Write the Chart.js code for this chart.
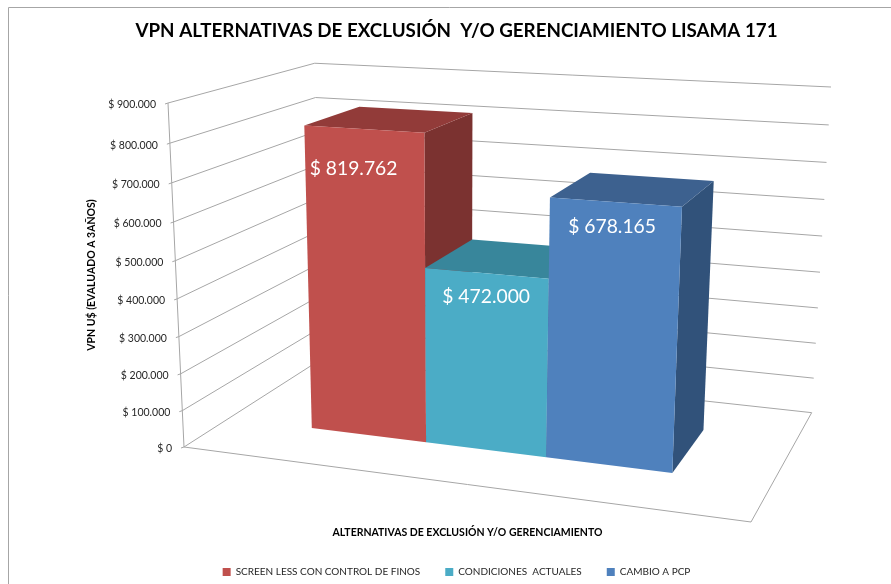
<!DOCTYPE html>
<html lang="es">
<head>
    <meta charset="UTF-8">
    <title>VPN alternativas</title>
    <script src="https://cdn.jsdelivr.net/npm/chart.js"></script>
    <style>
        html, body { margin: 0; padding: 0; background: #fff; overflow: hidden; }
        #wrap { position: relative; width: 891px; height: 584px; }
    </style>
</head>
<body>
    <div id="wrap"><canvas id="vpnChart"></canvas></div>

    <script>
        const chartTitle = 'VPN ALTERNATIVAS DE EXCLUSIÓN  Y/O GERENCIAMIENTO LISAMA 171';
        const xAxisTitle = 'ALTERNATIVAS DE EXCLUSIÓN Y/O GERENCIAMIENTO';
        const yAxisTitle = 'VPN U$ (EVALUADO A 3AÑOS)';
        const seriesNames = ['SCREEN LESS CON CONTROL DE FINOS', 'CONDICIONES  ACTUALES', 'CAMBIO A PCP'];
        const seriesValues = [819762, 472000, 678165];
        const valueLabels = ['$ 819.762', '$ 472.000', '$ 678.165'];
        const frontColors = ['#C0504D', '#4BACC6', '#4F81BD'];
        const topColors = ['#923B39', '#38869B', '#3D618F'];
        const sideColors = ['#7B3230', '#2F7286', '#31527A'];

        // corners of the 3D box as seen on the picture
        const O = [184, 447], U = [751, 522], V = [168, 103], W = [321.5, 359], X = [831, 87];
        const dv = -0.055;
        const barDepth = [0.298, 0.71];
        const labelNudge = [[-10, 40], [0, 24], [-3, 25]];

        // solve the two remaining perspective terms from the far top corner
        function solvePerspective() {
            const a1 = U[0] - X[0], b1 = W[0] - X[0];
            const c1 = X[0] * (1 + dv) - U[0] - V[0] * (1 + dv) - W[0] + 2 * O[0];
            const a2 = U[1] - X[1], b2 = W[1] - X[1];
            const c2 = X[1] * (1 + dv) - U[1] - V[1] * (1 + dv) - W[1] + 2 * O[1];
            const det = a1 * b2 - a2 * b1;
            return [(c1 * b2 - c2 * b1) / det, (a1 * c2 - a2 * c1) / det];
        }
        const [du, dw] = solvePerspective();

        // u along categories, v up the value axis, w into the chart, all 0..1
        function project(u, v, w) {
            const den = 1 + du * u + dv * v + dw * w;
            const out = [0, 1].map(i =>
                (O[i] + (U[i] * (1 + du) - O[i]) * u + (V[i] * (1 + dv) - O[i]) * v + (W[i] * (1 + dw) - O[i]) * w) / den
            );
            return out;
        }

        function line(ctx, points, color) {
            ctx.beginPath();
            points.forEach((p, i) => i ? ctx.lineTo(p[0], p[1]) : ctx.moveTo(p[0], p[1]));
            ctx.strokeStyle = color;
            ctx.lineWidth = 1;
            ctx.stroke();
        }

        function face(ctx, points, color) {
            ctx.beginPath();
            points.forEach((p, i) => i ? ctx.lineTo(p[0], p[1]) : ctx.moveTo(p[0], p[1]));
            ctx.closePath();
            ctx.fillStyle = color;
            ctx.fill();
        }

        const box3d = {
            id: 'box3d',
            beforeDraw(chart) {
                const ctx = chart.ctx;
                // outer chart frame
                line(ctx, [[8.5, chart.height], [8.5, 7.5], [chart.width, 7.5]], '#A6A6A6');
            },
            // bars are replaced by the perspective version below
            beforeDatasetsDraw(chart) {
                const ctx = chart.ctx;
                const yScale = chart.scales.y, xScale = chart.scales.x;
                const gridColor = '#A6A6A6';

                yScale.ticks.forEach(tick => {
                    const v = yScale.getDecimalForPixel(yScale.getPixelForValue(tick.value));
                    line(ctx, [project(0, v, 0), project(0, v, 1), project(1, v, 1)], gridColor);
                    const p = project(0, v, 0);
                    line(ctx, [p, [p[0] - 3, p[1] + 1]], gridColor);
                    ctx.fillStyle = '#262626';
                    ctx.font = '10.5px Lato';
                    ctx.textAlign = 'right';
                    ctx.textBaseline = 'middle';
                    ctx.fillText(tick.label, p[0] - 12, p[1] + 2);
                });
                line(ctx, [project(0, 1, 0), project(0, 0, 0), project(1, 0, 0), project(1, 0, 1)], gridColor);

                ctx.save();
                ctx.fillStyle = '#000';
                ctx.font = 'bold 10.5px Lato';
                ctx.textAlign = 'center';
                ctx.textBaseline = 'middle';
                ctx.fillText(xAxisTitle, 467.5, 533);
                ctx.translate(92, 275);
                ctx.rotate(-Math.PI / 2);
                ctx.fillText(yAxisTitle, 0, 0);
                ctx.restore();

                seriesValues.forEach((value, i) => {
                    const bar = chart.getDatasetMeta(i).data[0];
                    const u0 = (bar.x - bar.width / 2 - xScale.left) / xScale.width;
                    const u1 = (bar.x + bar.width / 2 - xScale.left) / xScale.width;
                    const v = yScale.getDecimalForPixel(bar.y);
                    const w0 = barDepth[0], w1 = barDepth[1];

                    face(ctx, [project(u1, 0, w0), project(u1, 0, w1), project(u1, v, w1), project(u1, v, w0)], sideColors[i]);
                    face(ctx, [project(u0, v, w0), project(u1, v, w0), project(u1, v, w1), project(u0, v, w1)], topColors[i]);
                    face(ctx, [project(u0, 0, w0), project(u1, 0, w0), project(u1, v, w0), project(u0, v, w0)], frontColors[i]);

                    const c = project((u0 + u1) / 2, v, w0);
                    ctx.fillStyle = '#fff';
                    ctx.font = '19.3px Lato';
                    ctx.textAlign = 'center';
                    ctx.textBaseline = 'middle';
                    ctx.fillText(valueLabels[i], c[0] + labelNudge[i][0], c[1] + labelNudge[i][1]);
                });
                return false;
            }
        };

        new Chart(document.getElementById('vpnChart'), {
            type: 'bar',
            data: {
                labels: [''],
                datasets: seriesNames.map((name, i) => ({
                    label: name,
                    data: [seriesValues[i]],
                    backgroundColor: frontColors[i],
                    borderWidth: 0,
                    categoryPercentage: 2 / 3,
                    barPercentage: 1
                }))
            },
            options: {
                responsive: true,
                maintainAspectRatio: false,
                animation: false,
                layout: { padding: { left: 22, top: 15, bottom: -3 } },
                scales: {
                    x: { display: false },
                    y: {
                        display: false,
                        min: 0,
                        max: 900000,
                        ticks: {
                            stepSize: 100000,
                            autoSkip: false,
                            callback: value => value === 0 ? '$ 0' : '$ ' + (value / 1000) + '.000'
                        }
                    }
                },
                plugins: {
                    tooltip: { enabled: false },
                    title: {
                        display: true,
                        text: chartTitle,
                        color: '#000',
                        font: { family: 'Lato', size: 18.8, weight: 'bold' },
                        padding: { top: 5, bottom: 10 }
                    },
                    legend: {
                        position: 'bottom',
                        labels: {
                            color: '#262626',
                            font: { family: 'Lato', size: 10 },
                            boxWidth: 8,
                            boxHeight: 8,
                            padding: 25
                        }
                    }
                }
            },
            plugins: [box3d]
        });
    </script>
</body>
</html>
